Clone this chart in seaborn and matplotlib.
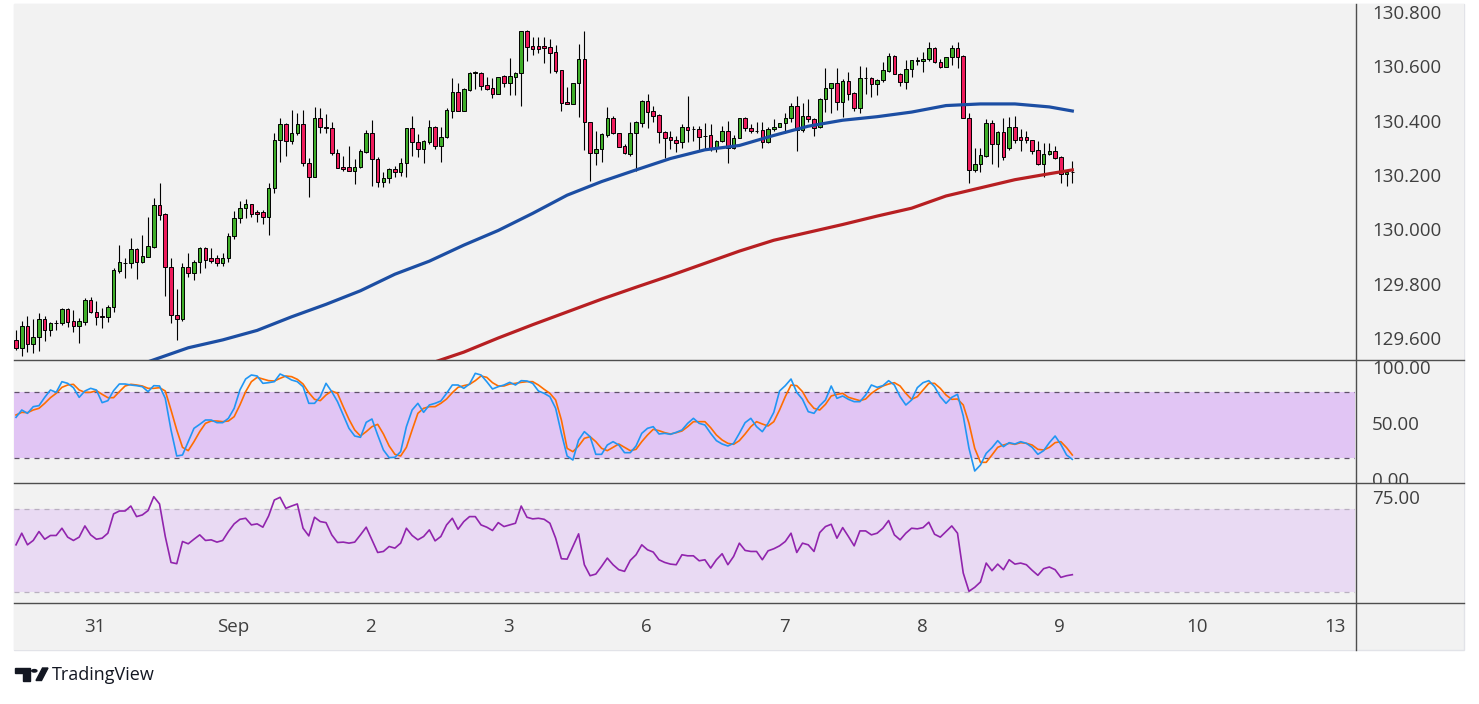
import numpy as np
import pandas as pd
import matplotlib
matplotlib.use("Agg")
import matplotlib.pyplot as plt
import seaborn as sns
from matplotlib.patches import Rectangle, Polygon, Circle
from matplotlib.lines import Line2D
from matplotlib.transforms import blended_transform_factory

plt.rcParams['font.family'] = ['Open Sans', 'DejaVu Sans']

# ---------------- data (hourly candles, index 0..184) ----------------
opens = [
129.600,129.569,129.651,129.584,129.610,129.677,129.635,129.662,129.661,129.713,
129.668,129.650,129.667,129.747,129.702,129.688,129.686,129.720,129.855,129.885,
129.882,129.935,129.888,129.906,129.943,130.097,130.064,129.867,129.692,129.676,
129.867,129.845,129.886,129.938,129.900,129.900,129.882,129.900,129.983,130.048,
130.084,130.100,130.071,130.071,130.051,130.158,130.336,130.394,130.332,130.361,
130.394,130.250,130.199,130.416,130.384,130.380,130.289,130.235,130.235,130.223,
130.238,130.293,130.361,130.265,130.183,130.195,130.228,130.217,130.250,130.379,
130.330,130.302,130.330,130.383,130.315,130.346,130.444,130.512,130.444,130.520,
130.584,130.584,130.539,130.526,130.507,130.572,130.547,130.569,130.582,130.737,
130.682,130.682,130.682,130.677,130.661,130.594,130.475,130.470,130.545,130.634,
130.401,130.287,130.302,130.355,130.419,130.361,130.314,130.284,130.361,130.400,
130.480,130.443,130.428,130.364,130.348,130.336,130.327,130.384,130.376,130.375,
130.352,130.354,130.305,130.334,130.369,130.305,130.342,130.419,130.381,130.371,
130.372,130.330,130.375,130.383,130.397,130.416,130.460,130.373,130.424,130.413,
130.383,130.486,130.526,130.545,130.477,130.553,130.508,130.455,130.563,130.563,
130.541,130.556,130.590,130.645,130.578,130.551,130.596,130.628,130.626,130.633,
130.674,130.623,130.606,130.640,130.674,130.645,130.419,130.226,130.246,130.278,
130.397,130.320,130.366,130.308,130.384,130.347,130.347,130.335,130.298,130.246,
130.283,130.296,130.272,130.210,130.219]

closes = [
129.569,129.651,129.584,129.611,129.677,129.635,129.662,129.663,129.713,129.667,
129.650,129.668,129.747,129.702,129.683,129.683,129.722,129.857,129.887,129.884,
129.935,129.888,129.909,129.946,130.097,130.060,129.867,129.690,129.676,129.867,
129.845,129.886,129.938,129.894,129.892,129.882,129.900,129.983,130.048,130.084,
130.100,130.062,130.064,130.051,130.158,130.336,130.394,130.332,130.362,130.394,
130.250,130.199,130.416,130.383,130.379,130.289,130.232,130.228,130.223,130.235,
130.296,130.363,130.265,130.183,130.195,130.228,130.217,130.250,130.379,130.330,
130.302,130.332,130.383,130.315,130.347,130.447,130.512,130.444,130.523,130.584,
130.585,130.536,130.524,130.507,130.570,130.547,130.572,130.583,130.737,130.680,
130.671,130.671,130.676,130.658,130.590,130.474,130.470,130.545,130.634,130.401,
130.287,130.302,130.357,130.419,130.361,130.311,130.289,130.361,130.401,130.480,
130.440,130.426,130.364,130.345,130.335,130.326,130.384,130.373,130.375,130.348,
130.351,130.302,130.334,130.369,130.305,130.342,130.419,130.379,130.370,130.370,
130.330,130.375,130.384,130.400,130.416,130.460,130.373,130.424,130.412,130.381,
130.487,130.526,130.545,130.477,130.553,130.505,130.455,130.563,130.564,130.541,
130.557,130.593,130.645,130.578,130.551,130.596,130.629,130.629,130.633,130.674,
130.622,130.606,130.640,130.674,130.643,130.419,130.226,130.248,130.281,130.397,
130.320,130.366,130.275,130.384,130.338,130.338,130.335,130.297,130.246,130.283,
130.296,130.271,130.210,130.219,130.220]

highs = [
129.636,129.670,129.688,129.677,129.698,129.688,129.667,129.673,129.716,129.718,
129.710,129.679,129.755,129.759,129.743,129.719,129.729,129.864,129.949,129.903,
129.976,129.940,129.986,130.054,130.122,130.179,130.069,129.903,129.787,129.884,
129.921,129.894,129.943,129.941,129.937,129.913,129.919,129.992,130.076,130.111,
130.119,130.100,130.078,130.077,130.179,130.361,130.418,130.397,130.447,130.437,
130.447,130.270,130.456,130.453,130.431,130.401,130.303,130.278,130.315,130.268,
130.302,130.373,130.410,130.272,130.218,130.234,130.240,130.269,130.379,130.424,
130.357,130.336,130.410,130.388,130.383,130.453,130.563,130.546,130.526,130.588,
130.590,130.588,130.567,130.563,130.570,130.575,130.637,130.588,130.737,130.741,
130.714,130.714,130.716,130.708,130.686,130.594,130.530,130.545,130.689,130.737,
130.404,130.369,130.361,130.459,130.424,130.363,130.320,130.404,130.406,130.483,
130.506,130.461,130.431,130.369,130.369,130.351,130.395,130.500,130.388,130.388,
130.397,130.395,130.338,130.388,130.406,130.354,130.419,130.422,130.395,130.404,
130.404,130.383,130.413,130.400,130.437,130.471,130.498,130.471,130.487,130.419,
130.492,130.600,130.545,130.600,130.559,130.586,130.514,130.609,130.606,130.569,
130.561,130.623,130.658,130.649,130.584,130.631,130.631,130.640,130.661,130.696,
130.680,130.635,130.640,130.687,130.698,130.649,130.434,130.308,130.305,130.415,
130.410,130.369,130.418,130.422,130.424,130.375,130.369,130.338,130.332,130.324,
130.324,130.314,130.276,130.226,130.259]

lows = [
129.563,129.541,129.557,129.551,129.560,129.597,129.616,129.636,129.654,129.646,
129.628,129.590,129.655,129.698,129.655,129.643,129.667,129.704,129.848,129.827,
129.864,129.823,129.882,129.904,129.937,130.041,129.762,129.661,129.600,129.671,
129.830,129.821,129.845,129.864,129.882,129.872,129.872,129.886,129.970,130.029,
130.050,130.051,130.035,130.027,129.985,130.140,130.256,130.277,130.320,130.354,
130.240,130.127,130.199,130.363,130.363,130.281,130.232,130.223,130.223,130.173,
130.232,130.289,130.168,130.162,130.164,130.179,130.201,130.203,130.201,130.277,
130.275,130.253,130.320,130.303,130.256,130.342,130.418,130.444,130.444,130.518,
130.524,130.520,130.520,130.492,130.507,130.532,130.502,130.502,130.461,130.628,
130.651,130.658,130.621,130.582,130.584,130.443,130.469,130.469,130.422,130.300,
130.185,130.245,130.256,130.348,130.357,130.309,130.283,130.278,130.222,130.383,
130.381,130.401,130.326,130.271,130.304,130.292,130.308,130.330,130.334,130.298,
130.300,130.297,130.292,130.327,130.250,130.303,130.342,130.370,130.363,130.363,
130.308,130.324,130.369,130.383,130.363,130.401,130.297,130.367,130.401,130.352,
130.379,130.440,130.434,130.447,130.422,130.483,130.443,130.437,130.505,130.496,
130.503,130.551,130.588,130.578,130.536,130.525,130.567,130.612,130.588,130.628,
130.618,130.602,130.606,130.612,130.600,130.419,130.176,130.219,130.219,130.272,
130.246,130.235,130.262,130.300,130.324,130.297,130.326,130.283,130.244,130.201,
130.281,130.265,130.176,130.167,130.176]

# moving averages (at selected candles)
ma_blue_idx = [22, 30, 36, 42, 48, 54, 60, 66, 72, 78, 84, 90, 96, 102, 108, 114,
               120, 126, 132, 138, 144, 150, 156, 162, 168, 174, 180, 184]
ma_blue_val = [129.512, 129.571, 129.600, 129.635, 129.685, 129.731, 129.781, 129.842,
               129.890, 129.949, 130.003, 130.066, 130.133, 130.183, 130.226, 130.268,
               130.300, 130.316, 130.353, 130.387, 130.409, 130.422, 130.439, 130.463,
               130.469, 130.469, 130.458, 130.443]
ma_red_idx = [72, 78, 84, 90, 96, 102, 108, 114, 120, 126, 132, 138, 144, 150, 156,
              162, 168, 174, 180, 184]
ma_red_val = [129.512, 129.555, 129.607, 129.656, 129.703, 129.750, 129.794, 129.837,
              129.882, 129.927, 129.967, 129.996, 130.025, 130.056, 130.085, 130.130,
              130.160, 130.190, 130.212, 130.226]

# stochastic %K / %D
stoch_k = [56.9,63.5,60.5,66.5,67.4,74.9,81.5,79.4,89,87.5,
83.6,74.9,80.6,83,81.5,70.1,71.9,80.9,86.9,86.9,
86,85.4,84.5,80,85.4,85.1,74,45.5,22.1,23,
35,47,50.6,54.5,54.5,52.1,52.1,56,65,81.5,
91.4,95,94.1,87.5,88.1,89,95.9,93.5,90.5,89,
84.5,69.5,69.5,75.5,87.5,80,71,59,47,40.1,
38.9,
52.4,55.4,41,27.5,20.6,20.9,26,48.5,63.5,69.5,
61.4,68,69.5,71.6,78.5,86,86,83,86.9,96.5,
95,89,82.4,84.5,86,88.4,86,89.9,89.6,87.5,
80.6,78.5,75.5,65,42.5,22.1,18.5,36.5,44,39.5,
23.6,23.6,32,35,32,25.1,25.1,31.1,42.5,47,
48.5,41.9,42.5,41.6,43.4,45.5,51.5,56,51.5,50,
42.5,35.9,
32.9,31.1,33.5,42.5,52.1,56,48.5,44,51.5,61.4,
80.6,85.4,91.4,79.4,73.1,62,60.5,67.4,72.5,85.1,
74,76.1,73.1,71,71,77,86,83.9,85.4,89.9,
86,75.5,68,72.5,83.6,88.1,89.9,84.5,75.5,69.5,
74.9,77.6,58.1,29,8.6,14,24.5,29.6,35.9,30.5,
34.1,32.9,35,33.5,29.9,23.6,26.9,34.1,40.1,32.6,
23,19.1]

stoch_d = [59,61.4,61.1,63.5,65,69.5,74.6,78.5,83.9,86,
86.6,81.5,79.4,79.4,80.9,77.6,74.6,74.6,80,85.1,
86.6,86,85.1,83,83,83.6,80.6,63.5,45.5,29.9,
26.9,35,44,51.5,53.6,53.6,53,53.6,57.5,68,
80,89,92.9,91.4,89.9,89.6,92,94.1,93.5,91.1,
86.9,79.1,73.1,71.9,77,80.6,78.5,66.5,55.1,45.5,
40.1,
44,48.5,50.6,41.9,31.1,23.6,22.1,29.9,45.5,60.5,
65,66.5,66.5,69.5,73.4,79.1,83.9,85.4,86.6,89.9,
94.1,92.9,88.1,85.1,85.1,86.9,87.5,88.4,89,89,
86,82.1,78.5,72.5,54.5,29,26,31.1,38,39.5,
35,29,26.9,29.9,32.9,29.9,26.9,28.1,35,41,
46.1,44.9,43.1,41.9,43.1,44.6,48.5,53,53,53,
47.6,41,
36.5,33.5,32.6,35.9,41.9,48.5,53,50.9,49.1,53,
63.5,75.5,86,85.4,80,71,65,63.5,68.6,76.1,
77.6,78.5,74.9,73.4,71.9,73.4,78.5,82.1,85.1,86.9,
88.1,85.1,78.5,73.1,75.5,81.5,87.5,87.5,83,77,
73.1,73.4,68,51.5,29,16.4,16.4,23,29.9,32,
33.5,32.6,34.1,33.5,32,28.1,27.5,29.9,34.1,35,
29.6,23]

# RSI
rsi = [52.9,58.5,52.9,55,59.3,55.6,57.4,57.4,60.9,56.6,
55,56.6,62,57.7,55.6,56.1,58.5,67.8,69.2,69.2,
71.6,66.5,67.3,69.4,76.1,72.6,56.9,44.4,43.8,54.5,
53.4,55.6,57.7,55,55.3,54.2,55,59.3,63,65.2,
65.7,62.5,63,61.4,66.8,74.5,75.8,70.5,71.6,72.6,
60.9,57.2,66.2,64.1,63.6,57.7,54,54.2,53.7,54.2,
57.7,
61.4,55.3,49.2,49.7,52.1,51.3,53.7,60.9,57.4,55.3,
56.9,60.1,54.8,56.9,62.5,65.7,60.4,64.1,66.5,66.5,
62.5,61.4,59.8,63.6,61.7,62.5,63.3,71.6,66.2,65.4,
65.7,65.2,63.3,56.1,46.2,46,52.1,58.2,43.3,38,
38.8,42.5,46.5,43.3,40.9,40.1,45.4,48.1,52.9,50.5,
49.4,45.7,44.4,43.6,43.3,48.1,47.6,47.6,45.2,45.7,
41.7,45.7,
48.6,43.3,47.3,53.7,50.2,49.7,49.7,45.7,50,51,
52.4,54.5,58.5,49.2,53.7,52.9,49.7,58.8,61.7,62.8,
56.1,61.2,56.9,52.4,59.6,59.6,57.7,58.5,60.9,64.6,
57.7,55.3,58.5,60.9,60.6,61.2,63.8,58,56.6,59.3,
62,58.5,39.3,30.5,32.4,35,44.1,40.4,43.6,40.9,
45.7,43.6,44.1,43.3,40.6,38.2,41.4,42.2,40.9,37.2,
38,38.5]

day_labels = ['31', 'Sep', '2', '3', '6', '7', '8', '9', '10', '13']
day_first_candle = 13.8   # candle index of the first day boundary
candles_per_day = 24
price_ticks = [130.8, 130.6, 130.4, 130.2, 130.0, 129.8, 129.6]
stoch_ticks = [100, 50, 0]
rsi_ticks = [75]

# ---------------- figure ----------------
W, H = 1479, 704
fig = plt.figure(figsize=(W / 100, H / 100), dpi=100)
fig.patch.set_facecolor('white')

BG = '#f2f2f2'
fig.patches.append(Rectangle((14 / W, 1 - 650 / H), (1464 - 14) / W, (650 - 4) / H,
                             transform=fig.transFigure, facecolor=BG,
                             edgecolor='#e2e3e8', lw=1.0, zorder=-5))


def pax(x0, y0, x1, y1):
    ax = fig.add_axes([x0 / W, 1 - y1 / H, (x1 - x0) / W, (y1 - y0) / H])
    ax.set_facecolor(BG)
    for s in ax.spines.values():
        s.set_visible(False)
    ax.tick_params(left=False, bottom=False, labelleft=False, labelbottom=False)
    return ax


XL = (-0.35, 233.24)
ax_p = pax(14, 4, 1355, 360)
ax_s = pax(14, 360, 1355, 483)
ax_r = pax(14, 483, 1355, 603)
ax_t = pax(14, 603, 1355, 650)
axr_p = pax(1355, 4, 1464, 360)
axr_s = pax(1355, 360, 1464, 483)
axr_r = pax(1355, 483, 1464, 603)

for a in (ax_p, ax_s, ax_r, ax_t):
    a.set_xlim(*XL)

P_YL = (129.526, 130.837)
S_YL = (-2.2, 108.5)
R_YL = (24.85, 82.7)
ax_p.set_ylim(*P_YL); axr_p.set_ylim(*P_YL)
ax_s.set_ylim(*S_YL); axr_s.set_ylim(*S_YL)
ax_r.set_ylim(*R_YL); axr_r.set_ylim(*R_YL)

# ---------------- candles ----------------
idx = np.arange(len(opens))
o = np.array(opens); c = np.array(closes)
hi = np.maximum(np.array(highs), np.maximum(o, c))
lo = np.minimum(np.array(lows), np.minimum(o, c))
up = c >= o
GREEN, RED = '#3fae29', '#ee1c5c'
ax_p.vlines(idx, lo, hi, color='black', lw=0.8, zorder=2)
body_h = np.maximum(np.abs(c - o), 0.0008)
ax_p.bar(idx, body_h, bottom=np.minimum(o, c), width=0.62,
         color=np.where(up, GREEN, RED), edgecolor='black', linewidth=0.7, zorder=3)

df_b = pd.DataFrame({'i': ma_blue_idx, 'v': ma_blue_val})
df_r = pd.DataFrame({'i': ma_red_idx, 'v': ma_red_val})
sns.lineplot(data=df_b, x='i', y='v', ax=ax_p, color='#1c4ea3', lw=2.3, zorder=4)
sns.lineplot(data=df_r, x='i', y='v', ax=ax_p, color='#b71f22', lw=2.3, zorder=4)

# ---------------- stochastic ----------------
df_ind = pd.DataFrame({'i': idx, 'k': stoch_k, 'd': stoch_d, 'rsi': rsi})
ax_s.axhspan(20, 80, color='#e1c5f4', zorder=0, lw=0)
for lvl in (80, 20):
    ax_s.axhline(lvl, color='#5e5068', lw=0.9, ls=(0, (4, 4)), zorder=1)
sns.lineplot(data=df_ind, x='i', y='d', ax=ax_s, color='#ff6d00', lw=1.2, zorder=3)
sns.lineplot(data=df_ind, x='i', y='k', ax=ax_s, color='#2196f3', lw=1.2, zorder=4)

# ---------------- RSI ----------------
ax_r.axhspan(30, 70, color='#e9daf3', zorder=0, lw=0)
for lvl in (70, 30):
    ax_r.axhline(lvl, color='#b9b0c0', lw=0.9, ls=(0, (4, 4)), zorder=1)
sns.lineplot(data=df_ind, x='i', y='rsi', ax=ax_r, color='#9124ad', lw=1.2, zorder=3)

for a in (ax_p, ax_s, ax_r):
    a.set_xlabel(''); a.set_ylabel('')
    a.tick_params(left=False, bottom=False, labelleft=False, labelbottom=False)

# ---------------- scale labels ----------------
TXT = '#3f3f3f'
FS = 13.5


def scale_labels(ax, ticks, fmt):
    tr = blended_transform_factory(ax.transAxes, ax.transData)
    for t in ticks:
        ax.text(0.155, t, fmt.format(t), transform=tr, ha='left', va='center',
                fontsize=FS, color=TXT, clip_on=True)


scale_labels(axr_p, price_ticks, '{:.3f}')
scale_labels(axr_s, stoch_ticks, '{:.2f}')
scale_labels(axr_r, rsi_ticks, '{:.2f}')

tr_t = blended_transform_factory(ax_t.transData, ax_t.transAxes)
for k, lab in enumerate(day_labels):
    ax_t.text(day_first_candle + candles_per_day * k, 0.5, lab, transform=tr_t,
              ha='center', va='center', fontsize=FS, color=TXT)

# ---------------- separators ----------------
SEP = '#4e4e4e'
for yy in (360, 483, 603):
    fig.add_artist(Line2D([14 / W, 1464 / W], [1 - yy / H, 1 - yy / H],
                          color=SEP, lw=1.0, zorder=6))
fig.add_artist(Line2D([1355.5 / W, 1355.5 / W], [1 - 4 / H, 1 - 650 / H],
                      color=SEP, lw=1.0, zorder=6))

# ---------------- TradingView logo ----------------
def fpoly(pts, **kw):
    return Polygon([(x / W, 1 - y / H) for x, y in pts], closed=True,
                   transform=fig.transFigure, **kw)


LOGO = '#131722'
fig.patches.append(fpoly([(15, 668), (30, 668), (30, 673), (15, 673)], color=LOGO))
fig.patches.append(fpoly([(22.5, 673), (30, 673), (30, 680.5), (22.5, 680.5)], color=LOGO))
fig.patches.append(Circle((34.3 / W, 1 - 670.8 / H), 2.6 / W, transform=fig.transFigure,
                          color=LOGO))
fig.patches.append(fpoly([(36, 680.5), (41.5, 680.5), (48, 668), (42.5, 668)], color=LOGO))
fig.text(52 / W, 1 - 675 / H, 'TradingView', fontsize=13, color=LOGO,
         ha='left', va='center')

fig.savefig('out.png', dpi=100, facecolor='white')
